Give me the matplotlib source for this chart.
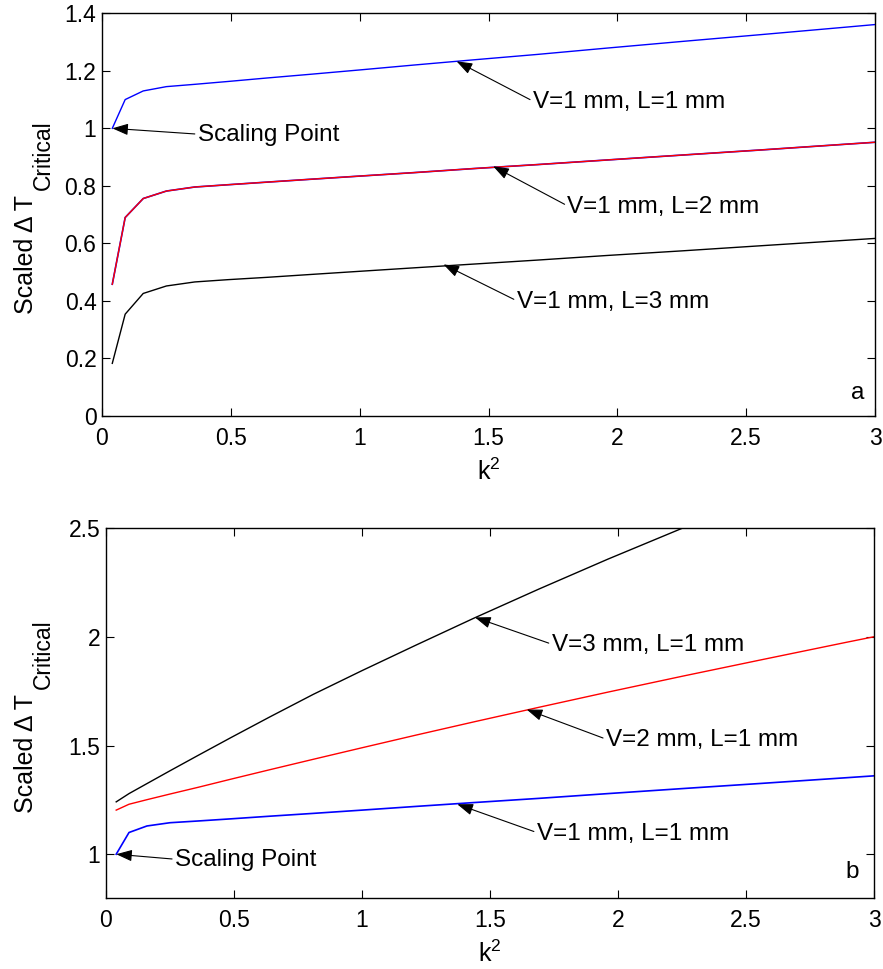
import matplotlib
matplotlib.use("Agg")
import matplotlib.pyplot as plt

plt.rcParams['font.family'] = ['Liberation Sans', 'DejaVu Sans']
plt.rcParams['mathtext.default'] = 'regular'
plt.rcParams['font.size'] = 17

# k^2 values (k = 0.2 ... 1.8)
k2 = [0.04, 0.09, 0.16, 0.25, 0.36, 0.49, 0.64, 0.81, 1.00, 1.21, 1.44,
      1.69, 1.96, 2.25, 2.56, 2.89, 3.24]

# Panel a
v1_l1 = [1.000, 1.100, 1.130, 1.145, 1.153, 1.163, 1.175, 1.188, 1.203, 1.220,
         1.238, 1.257, 1.279, 1.302, 1.326, 1.352, 1.380]
v1_l2 = [0.458, 0.690, 0.756, 0.782, 0.796, 0.804, 0.813, 0.823, 0.834, 0.846,
         0.860, 0.874, 0.890, 0.907, 0.925, 0.945, 0.966]
v1_l3 = [0.183, 0.354, 0.426, 0.452, 0.466, 0.474, 0.482, 0.492, 0.503, 0.515,
         0.528, 0.542, 0.558, 0.574, 0.592, 0.611, 0.631]

# Panel b
v2_l1 = [1.203, 1.230, 1.251, 1.277, 1.308, 1.346, 1.389, 1.437, 1.490, 1.548,
         1.610, 1.676, 1.746, 1.819, 1.895, 1.975, 2.058]
v3_l1 = [1.241, 1.279, 1.325, 1.384, 1.455, 1.538, 1.632, 1.736, 1.845, 1.962,
         2.088, 2.220, 2.358, 2.500, 2.650, 2.805, 2.965]

xticks = [0, 0.5, 1, 1.5, 2, 2.5, 3]
xticklabels = ['0', '0.5', '1', '1.5', '2', '2.5', '3']
yticks_a = [0, 0.2, 0.4, 0.6, 0.8, 1.0, 1.2, 1.4]
yticklabels_a = ['0', '0.2', '0.4', '0.6', '0.8', '1', '1.2', '1.4']
yticks_b = [1, 1.5, 2, 2.5]
yticklabels_b = ['1', '1.5', '2', '2.5']

W, H = 883, 969
fig = plt.figure(figsize=(W / 100, H / 100), dpi=100)
ax1 = fig.add_axes([0.1155, 0.5707, 0.9910 - 0.1155, 0.9863 - 0.5707])
ax2 = fig.add_axes([0.1200, 0.0736, 0.9900 - 0.1200, 0.4548 - 0.0736])

lw = 1.0
ax1.plot(k2, v1_l1, color='blue', lw=lw)
ax1.plot(k2, v1_l2, color='blue', lw=lw * 1.2)
ax1.plot(k2, v1_l2, color='red', lw=lw)
ax1.plot(k2, v1_l3, color='black', lw=lw)

ax2.plot(k2, v1_l1, color='blue', lw=lw * 1.2)
ax2.plot(k2, v2_l1, color='red', lw=lw)
ax2.plot(k2, v3_l1, color='black', lw=lw)

ax1.set_xlim(0, 3)
ax1.set_ylim(0, 1.4)
ax2.set_xlim(0, 3)
ax2.set_ylim(0.8, 2.5)

for ax, yt, ytl in [(ax1, yticks_a, yticklabels_a), (ax2, yticks_b, yticklabels_b)]:
    ax.set_xticks(xticks)
    ax.set_xticklabels(xticklabels)
    ax.set_yticks(yt)
    ax.set_yticklabels(ytl)
    ax.tick_params(direction='in', length=6, width=0.8, top=True, right=True,
                   labelsize=16.5)
    ax.tick_params(axis='x', pad=8)
    ax.tick_params(axis='y', pad=4)
    for s in ax.spines.values():
        s.set_linewidth(1.0)
    ax.set_xlabel('k$^{2}$', fontsize=18, labelpad=6)

# y labels built from two texts so the subscript can be large (MATLAB style)
fig.canvas.draw()
renderer = fig.canvas.get_renderer()
for ax in (ax1, ax2):
    pos = ax.get_position()
    base_x = 33.0 / W
    main = fig.text(base_x, 0.5, 'Scaled Δ T', rotation=90, rotation_mode='anchor',
                    ha='left', va='baseline', fontsize=18)
    sub = fig.text(base_x + 17.0 / W, 0.5, 'Critical', rotation=90,
                   rotation_mode='anchor', ha='left', va='baseline', fontsize=16.5)
    bm = main.get_window_extent(renderer)
    bs = sub.get_window_extent(renderer)
    gap = 5.0
    total = bm.height + gap + bs.height
    centre = (pos.y0 + pos.y1) / 2 * H - 3
    start = centre - total / 2
    main.set_y(start / H)
    sub.set_y((start + bm.height + gap) / H)

arrow = dict(arrowstyle='-|>,head_length=0.55,head_width=0.2', color='black',
             lw=0.8, shrinkA=0, shrinkB=0, relpos=(0, 0.55))
fs = 17.5

ax1.annotate('Scaling Point', xy=(0.04, 1.0), xytext=(0.371, 0.976),
             ha='left', va='center', fontsize=fs, arrowprops=arrow)
ax1.annotate('V=1 mm, L=1 mm', xy=(1.376, 1.233), xytext=(1.672, 1.091),
             ha='left', va='center', fontsize=fs, arrowprops=arrow)
ax1.annotate('V=1 mm, L=2 mm', xy=(1.518, 0.868), xytext=(1.806, 0.727),
             ha='left', va='center', fontsize=fs, arrowprops=arrow)
ax1.annotate('V=1 mm, L=3 mm', xy=(1.325, 0.527), xytext=(1.609, 0.397),
             ha='left', va='center', fontsize=fs, arrowprops=arrow)
ax1.text(2.96, 0.08, 'a', ha='right', va='center', fontsize=fs)

ax2.annotate('V=3 mm, L=1 mm', xy=(1.441, 2.090), xytext=(1.740, 1.962),
             ha='left', va='center', fontsize=fs, arrowprops=arrow)
ax2.annotate('V=2 mm, L=1 mm', xy=(1.643, 1.666), xytext=(1.952, 1.525),
             ha='left', va='center', fontsize=fs, arrowprops=arrow)
ax2.annotate('V=1 mm, L=1 mm', xy=(1.372, 1.230), xytext=(1.682, 1.095),
             ha='left', va='center', fontsize=fs, arrowprops=arrow)
ax2.annotate('Scaling Point', xy=(0.04, 1.0), xytext=(0.269, 0.972),
             ha='left', va='center', fontsize=fs, arrowprops=arrow)
ax2.text(2.94, 0.917, 'b', ha='right', va='center', fontsize=fs)

fig.savefig('out.png', dpi=100)
